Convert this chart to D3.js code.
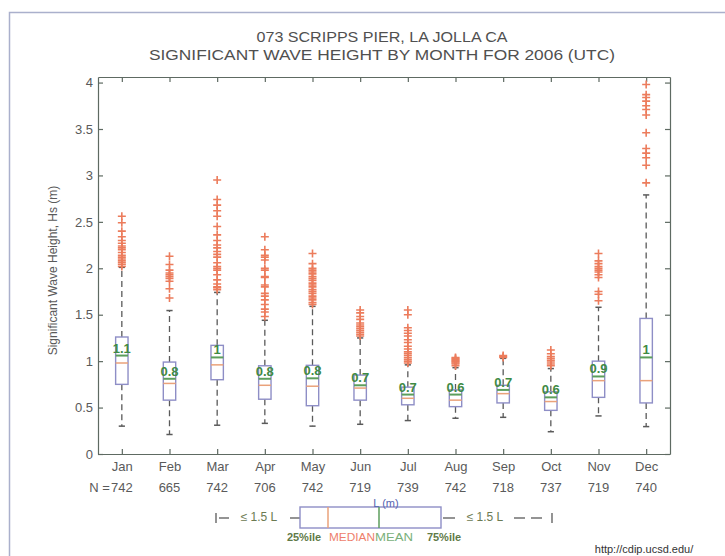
<!DOCTYPE html>
<html>
<head>
<meta charset="utf-8">
<script src="https://cdn.jsdelivr.net/npm/d3@7"></script>
<style>
  html, body { margin: 0; padding: 0; background: #fff; }
  svg { display: block; font-family: "Liberation Sans", Arial, sans-serif; }
</style>
</head>
<body>
<svg id="chart" width="725" height="556"></svg>
<script>
// ---------------- data ----------------
const months = ["Jan","Feb","Mar","Apr","May","Jun","Jul","Aug","Sep","Oct","Nov","Dec"];
const nCounts = [742, 665, 742, 706, 742, 719, 739, 742, 718, 737, 719, 740];
const q1Vals     = [0.75, 0.58, 0.80, 0.59, 0.52, 0.58, 0.53, 0.51, 0.55, 0.47, 0.61, 0.55];
const medianVals = [0.98, 0.76, 0.96, 0.74, 0.73, 0.71, 0.60, 0.58, 0.65, 0.565, 0.79, 0.79];
const meanVals   = [1.06, 0.81, 1.04, 0.81, 0.815, 0.74, 0.64, 0.64, 0.69, 0.61, 0.835, 1.04];
const q3Vals     = [1.26, 0.99, 1.17, 0.95, 0.955, 0.85, 0.72, 0.69, 0.74, 0.67, 1.00, 1.46];
const whiskerLo  = [0.30, 0.21, 0.31, 0.33, 0.30, 0.32, 0.36, 0.385, 0.395, 0.24, 0.41, 0.295];
const whiskerHi  = [2.01, 1.545, 1.74, 1.44, 1.59, 1.25, 0.96, 0.93, 1.03, 0.92, 1.58, 2.79];
const meanLabels = ["1.1","0.8","1","0.8","0.8","0.7","0.7","0.6","0.7","0.6","0.9","1"];
const outliers = [
  [2.02,2.04,2.06,2.08,2.1,2.12,2.14,2.17,2.2,2.22,2.24,2.27,2.3,2.34,2.4,2.49,2.56],
  [1.68,1.78,1.86,1.89,1.91,1.93,1.95,1.98,2.04,2.13],
  [1.77,1.79,1.8,1.83,1.875,1.93,1.98,2.0,2.02,2.06,2.12,2.15,2.18,2.22,2.25,2.3,2.36,2.45,2.56,2.62,2.68,2.74,2.95],
  [1.48,1.53,1.56,1.61,1.66,1.7,1.73,1.8,1.82,1.9,1.91,1.98,2.0,2.09,2.12,2.14,2.2,2.34],
  [1.61,1.63,1.66,1.68,1.7,1.73,1.75,1.77,1.8,1.82,1.84,1.87,1.89,1.91,1.94,1.96,1.98,2.0,2.05,2.16],
  [1.27,1.29,1.31,1.33,1.35,1.37,1.39,1.41,1.45,1.48,1.52,1.55],
  [0.98,1.0,1.02,1.04,1.06,1.08,1.1,1.13,1.16,1.2,1.23,1.27,1.3,1.33,1.36,1.5,1.55],
  [0.95,0.97,0.98,0.99,1.0,1.01,1.02,1.03,1.04],
  [1.04,1.05,1.06],
  [0.95,0.97,0.99,1.01,1.03,1.05,1.08,1.12],
  [1.65,1.72,1.75,1.9,1.93,1.96,1.98,2.0,2.02,2.05,2.08,2.16],
  [2.92,3.11,3.19,3.24,3.29,3.46,3.65,3.71,3.75,3.8,3.84,3.87,3.98]
];
const yTicks = [0, 0.5, 1, 1.5, 2, 2.5, 3, 3.5, 4];
const titleLines = ["073 SCRIPPS PIER, LA JOLLA CA", "SIGNIFICANT WAVE HEIGHT BY MONTH FOR 2006 (UTC)"];

// ---------------- layout ----------------
const svg = d3.select("#chart");
const L = 98, R = 670, T = 77, B = 454;
const x = d3.scaleLinear().domain([0.5, 12.5]).range([L, R]);
const y = d3.scaleLinear().domain([0, 4.06]).range([B, T]);
const boxW = x(1.26) - x(1);
const capW = x(1.13) - x(1);

const axisCol = "#5e6a62", textCol = "#5a5a5a";
const boxCol = "#8e8ec6", medCol = "#eaa27a", meanCol = "#5c9e5c";
const whiskCol = "#5a5a5a", outCol = "#ec7c5c", labelCol = "#3f8a44";

// figure frame
svg.append("path")
  .attr("d", "M9.5,556 L9.5,12.5 L725,12.5")
  .attr("fill", "none").attr("stroke", "#aab0cc").attr("stroke-width", 1.5);

// title
svg.append("g").selectAll("text").data(titleLines).join("text")
  .attr("x", 382).attr("y", (d, i) => 42 + i * 18)
  .attr("text-anchor", "middle")
  .attr("font-size", 15).attr("fill", "#505050")
  .attr("textLength", (d, i) => i === 0 ? 251 : 466)
  .attr("lengthAdjust", "spacingAndGlyphs")
  .text(d => d);

// axes
function styleAxis(g) {
  g.selectAll("path, line").attr("stroke", axisCol).attr("stroke-width", 1.2);
  g.selectAll("text").attr("fill", textCol).attr("font-size", 13)
    .attr("font-family", "\"Liberation Sans\", Arial, sans-serif");
}
svg.append("g").attr("transform", `translate(${L},0)`)
  .call(d3.axisLeft(y).tickValues(yTicks).tickFormat(d => String(d)).tickSizeInner(-5).tickSizeOuter(0).tickPadding(5))
  .call(styleAxis);
svg.append("g").attr("transform", `translate(${R},0)`)
  .call(d3.axisRight(y).tickValues(yTicks).tickFormat("").tickSizeInner(-5).tickSizeOuter(0))
  .call(styleAxis);
svg.append("g").attr("transform", `translate(0,${B})`)
  .call(d3.axisBottom(x).tickValues(d3.range(1, 13)).tickFormat(d => months[d - 1]).tickSizeInner(-5).tickSizeOuter(0).tickPadding(8))
  .call(styleAxis);
svg.append("g").attr("transform", `translate(0,${T})`)
  .call(d3.axisTop(x).tickValues(d3.range(1, 13)).tickFormat("").tickSizeInner(-5).tickSizeOuter(0))
  .call(styleAxis);

// N row
svg.append("g").selectAll("text").data(nCounts).join("text")
  .attr("x", (d, i) => x(i + 1)).attr("y", 492)
  .attr("text-anchor", "middle").attr("font-size", 13).attr("fill", textCol)
  .text(d => d);
svg.append("text").attr("x", x(1) - 12).attr("y", 492).attr("text-anchor", "end")
  .attr("font-size", 13).attr("fill", textCol).text("N =");

// y label
svg.append("text")
  .attr("transform", `translate(57,${(T + B) / 2 + 5}) rotate(-90)`)
  .attr("text-anchor", "middle").attr("font-size", 12).attr("fill", textCol)
  .text("Significant Wave Height, Hs (m)");

// boxes
const idx = d3.range(12);
const g = svg.append("g");
g.selectAll(".wlo").data(idx).join("line")
  .attr("x1", i => x(i + 1)).attr("x2", i => x(i + 1))
  .attr("y1", i => y(q1Vals[i])).attr("y2", i => y(whiskerLo[i]))
  .attr("stroke", whiskCol).attr("stroke-width", 1.3).attr("stroke-dasharray", "6,4");
g.selectAll(".whi").data(idx).join("line")
  .attr("x1", i => x(i + 1)).attr("x2", i => x(i + 1))
  .attr("y1", i => y(q3Vals[i])).attr("y2", i => y(whiskerHi[i]))
  .attr("stroke", whiskCol).attr("stroke-width", 1.3).attr("stroke-dasharray", "6,4");
[whiskerLo, whiskerHi].forEach(arr => {
  g.append("g").selectAll("line").data(idx).join("line")
    .attr("x1", i => x(i + 1) - capW / 2).attr("x2", i => x(i + 1) + capW / 2)
    .attr("y1", i => y(arr[i])).attr("y2", i => y(arr[i]))
    .attr("stroke", whiskCol).attr("stroke-width", 1.5);
});
idx.forEach(i => {
  const cx = x(i + 1);
  g.append("g").selectAll("path").data(outliers[i]).join("path")
    .attr("d", v => `M${cx - 4},${y(v)}h8M${cx},${y(v) - 4}v8`)
    .attr("stroke", outCol).attr("stroke-width", 1.6).attr("fill", "none");
});
g.selectAll(".box").data(idx).join("rect")
  .attr("x", i => x(i + 1) - boxW / 2).attr("width", boxW)
  .attr("y", i => y(q3Vals[i])).attr("height", i => y(q1Vals[i]) - y(q3Vals[i]))
  .attr("fill", "#fff").attr("stroke", boxCol).attr("stroke-width", 1.4);
g.selectAll(".med").data(idx).join("line")
  .attr("x1", i => x(i + 1) - boxW / 2).attr("x2", i => x(i + 1) + boxW / 2)
  .attr("y1", i => y(medianVals[i])).attr("y2", i => y(medianVals[i]))
  .attr("stroke", medCol).attr("stroke-width", 1.5);
g.selectAll(".mean").data(idx).join("line")
  .attr("x1", i => x(i + 1) - boxW / 2).attr("x2", i => x(i + 1) + boxW / 2)
  .attr("y1", i => y(meanVals[i])).attr("y2", i => y(meanVals[i]))
  .attr("stroke", meanCol).attr("stroke-width", 2);
g.selectAll(".ml").data(idx).join("text")
  .attr("x", i => x(i + 1)).attr("y", i => y(meanVals[i]) - 3)
  .attr("text-anchor", "middle").attr("font-size", 13).attr("font-weight", "bold")
  .attr("fill", labelCol)
  .text(i => meanLabels[i]);

// ---------------- legend ----------------
const lg = svg.append("g");
const ly = 518;
lg.append("line").attr("x1", 216).attr("x2", 216).attr("y1", ly - 5).attr("y2", ly + 5).attr("stroke", whiskCol).attr("stroke-width", 1.3);
lg.append("line").attr("x1", 552).attr("x2", 552).attr("y1", ly - 5).attr("y2", ly + 5).attr("stroke", whiskCol).attr("stroke-width", 1.3);
[[219, 229], [290, 300], [443, 455], [514, 525], [531, 542]].forEach(s => {
  lg.append("line").attr("x1", s[0]).attr("x2", s[1]).attr("y1", ly).attr("y2", ly)
    .attr("stroke", whiskCol).attr("stroke-width", 1.3);
});
lg.append("text").attr("x", 259).attr("y", ly + 3).attr("text-anchor", "middle")
  .attr("font-size", 12).attr("fill", "#6b7a52").text("\u2264 1.5 L");
lg.append("text").attr("x", 485).attr("y", ly + 3).attr("text-anchor", "middle")
  .attr("font-size", 12).attr("fill", "#6b7a52").text("\u2264 1.5 L");
lg.append("rect").attr("x", 300).attr("y", 507).attr("width", 141).attr("height", 21)
  .attr("fill", "#fff").attr("stroke", boxCol).attr("stroke-width", 1.4);
lg.append("line").attr("x1", 328).attr("x2", 328).attr("y1", 507).attr("y2", 528).attr("stroke", medCol).attr("stroke-width", 1.5);
lg.append("line").attr("x1", 379).attr("x2", 379).attr("y1", 507).attr("y2", 528).attr("stroke", meanCol).attr("stroke-width", 1.5);
lg.append("text").attr("x", 386).attr("y", 507).attr("text-anchor", "middle")
  .attr("font-size", 11).attr("fill", "#5563b0").text("L (m)");
lg.append("text").attr("x", 304).attr("y", 541).attr("text-anchor", "middle")
  .attr("font-size", 11).attr("font-weight", "bold").attr("fill", "#5f7a48").text("25%ile");
lg.append("text").attr("x", 329).attr("y", 541).attr("text-anchor", "start")
  .attr("font-size", 11).attr("fill", "#ee7e6c").attr("textLength", 46).attr("lengthAdjust", "spacingAndGlyphs").text("MEDIAN");
lg.append("text").attr("x", 375).attr("y", 541).attr("text-anchor", "start")
  .attr("font-size", 11).attr("fill", "#7ab07a").attr("textLength", 38).attr("lengthAdjust", "spacingAndGlyphs").text("MEAN");
lg.append("text").attr("x", 444).attr("y", 541).attr("text-anchor", "middle")
  .attr("font-size", 11).attr("font-weight", "bold").attr("fill", "#5f7a48").text("75%ile");

svg.append("text").attr("x", 644).attr("y", 553).attr("text-anchor", "middle")
  .attr("font-size", 11).attr("fill", "#333").text("http://cdip.ucsd.edu/");
</script>
</body>
</html>
